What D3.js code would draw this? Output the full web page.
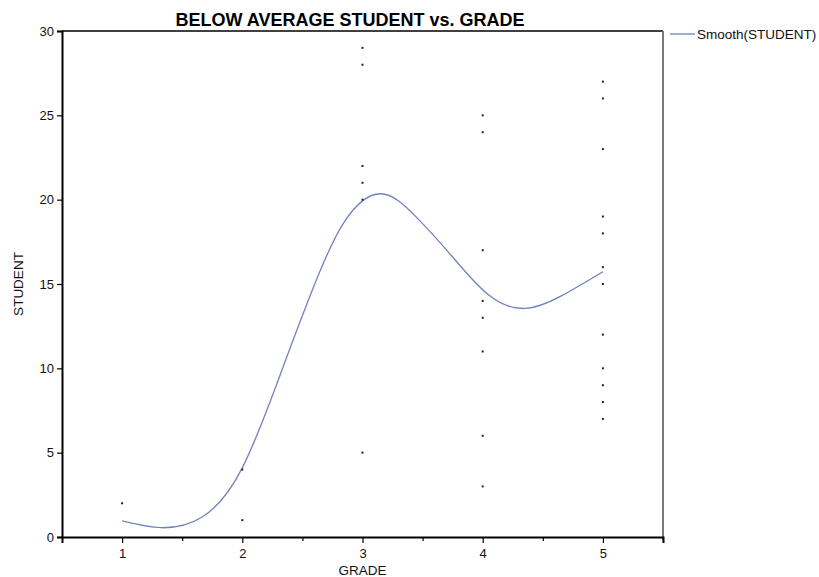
<!DOCTYPE html>
<html><head><meta charset="utf-8">
<script src="https://cdn.jsdelivr.net/npm/d3@7/dist/d3.min.js"></script>
<style>body{margin:0;background:#fff}svg{display:block}text{font-family:"Liberation Sans",Arial,sans-serif}</style>
</head><body>
<svg id="c" width="819" height="577"></svg>
<script>
// Scatter data: grade and student counts
const grade1 = [2];
const grade2 = [4, 1];
const grade3 = [29, 28, 22, 21, 20, 5];
const grade4 = [25, 24, 17, 14, 13, 11, 6, 3];
const grade5 = [27, 26, 23, 19, 18, 16, 15, 12, 10, 9, 8, 7];
// Smooth curve
const smoothX = [1.0, 1.33, 1.67, 2.0, 2.33, 2.6, 2.85, 3.15, 3.45, 3.75, 4.05, 4.35, 4.65, 5.0];
const smoothY = [0.95, 0.55, 1.2, 4.1, 9.9, 14.95, 18.7, 20.35, 18.95, 16.6, 14.35, 13.55, 14.28, 15.73];
const xTicks = [1, 2, 3, 4, 5];
const xMinor = [1.5, 2.5, 3.5, 4.5];
const yTicks = [0, 5, 10, 15, 20, 25, 30];

const svg = d3.select("#c");
const L = 62, R = 663, T = 31, B = 537;
const x = d3.scaleLinear().domain([0.5, 5.5]).range([L, R]);
const y = d3.scaleLinear().domain([0, 30]).range([B, T]);

const pts = [];
[grade1, grade2, grade3, grade4, grade5].forEach((arr, i) => arr.forEach(v => pts.push({g: i + 1, v})));

// frame: top and right
svg.append("line").attr("x1", L).attr("x2", R).attr("y1", T).attr("y2", T).attr("stroke", "#000").attr("stroke-width", 1.5);
svg.append("line").attr("x1", R).attr("x2", R).attr("y1", T).attr("y2", B + 3).attr("stroke", "#777").attr("stroke-width", 2);

// x axis
svg.append("g").attr("transform", `translate(0,${B})`)
  .call(d3.axisBottom(x).tickValues(xTicks).tickSize(6).tickPadding(6).tickFormat(d3.format("d")));
svg.append("g").attr("transform", `translate(0,${B})`)
  .call(d3.axisBottom(x).tickValues(xMinor).tickSize(4).tickFormat(""))
  .call(g => g.select(".domain").remove());
// y axis
svg.append("g").attr("transform", `translate(${L},0)`)
  .call(d3.axisLeft(y).tickValues(yTicks).tickSize(5).tickPadding(3).tickFormat(d3.format("d")));
svg.selectAll(".domain").attr("stroke", "#000").attr("stroke-width", 2);
svg.selectAll(".tick line").attr("stroke", "#000").attr("stroke-width", 1.2);
svg.selectAll(".tick text").attr("font-size", 13).attr("fill", "#111").attr("font-family", '"Liberation Sans",Arial,sans-serif');

// smooth line
const sm = smoothX.map((d, i) => [d, smoothY[i]]);
svg.append("path").datum(sm)
  .attr("d", d3.line().x(d => x(d[0])).y(d => y(d[1])).curve(d3.curveNatural))
  .attr("fill", "none").attr("stroke", "#7282bd").attr("stroke-width", 1.3);

// points
svg.append("g").selectAll("rect").data(pts).join("rect")
  .attr("x", d => x(d.g) - 1).attr("y", d => y(d.v) - 1).attr("width", 2).attr("height", 2).attr("fill", "#222");

// title
svg.append("text").attr("x", 350).attr("y", 26).attr("text-anchor", "middle")
  .attr("font-size", 18).attr("font-weight", "bold").attr("fill", "#000")
  .text("BELOW AVERAGE STUDENT vs. GRADE");
// axis titles
svg.append("text").attr("x", x(3)).attr("y", 575).attr("text-anchor", "middle").attr("font-size", 13.5).attr("fill", "#111").text("GRADE");
svg.append("text").attr("transform", `translate(23,${(T + B) / 2}) rotate(-90)`).attr("text-anchor", "middle").attr("font-size", 13.5).attr("fill", "#111").text("STUDENT");

// legend
svg.append("line").attr("x1", 670).attr("x2", 695).attr("y1", 34).attr("y2", 34).attr("stroke", "#7282bd").attr("stroke-width", 1.3);
svg.append("text").attr("x", 697).attr("y", 38.5).attr("font-size", 13.5).attr("fill", "#111").text("Smooth(STUDENT)");
</script>
</body></html>
